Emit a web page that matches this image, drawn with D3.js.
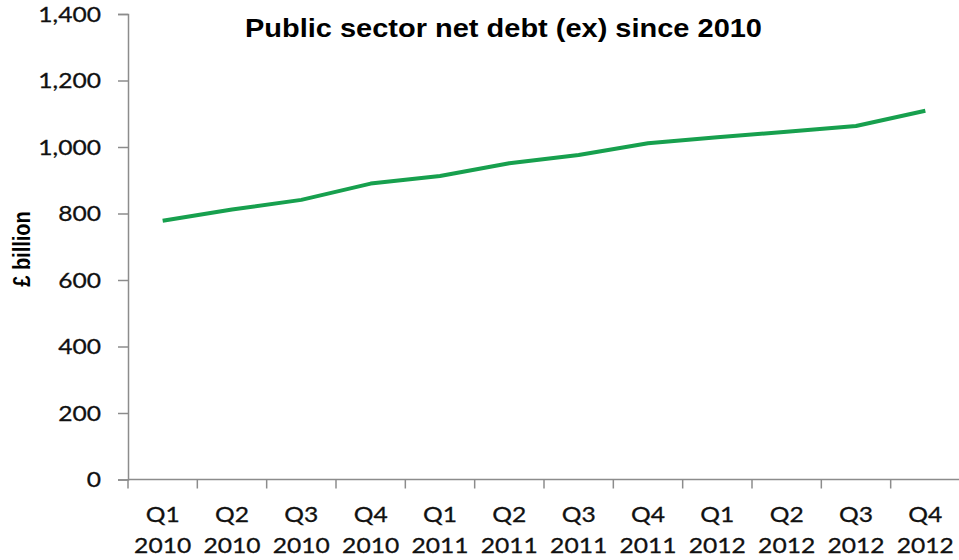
<!DOCTYPE html>
<html>
<head>
    <meta charset="UTF-8">
    <style>
        body { margin: 0; background: #fff; }
        .tick text { font-family: Lato, "Open Sans", sans-serif; font-size: 22px; fill: #111; stroke: #111; stroke-width: 0.3px; }
    </style>
</head>
<body>
    <svg width="959" height="560"></svg>
    <script src="https://d3js.org/d3.v7.min.js"></script>
    <script>
        // quarters and net debt (£ billion)
        let quarters = ["Q1", "Q2", "Q3", "Q4", "Q1", "Q2", "Q3", "Q4", "Q1", "Q2", "Q3", "Q4"];
        let years = ["2010", "2010", "2010", "2010", "2011", "2011", "2011", "2011", "2012", "2012", "2012", "2012"];
        let debt = [778, 812, 841, 890, 913, 951, 976, 1011, 1029, 1046, 1063, 1109];
        let yTicks = [0, 200, 400, 600, 800, 1000, 1200, 1400];

        let svg = d3.select("svg");
        let margin = { top: 14, left: 128, right: 0, bottom: 80 };
        let stretch = 1.12; // the reference text is a little wider than it is tall

        let keys = d3.range(debt.length);

        let x = d3.scaleBand()
            .domain(keys)
            .range([margin.left, 960]);

        let y = d3.scaleLinear()
            .domain([0, 1400])
            .range([479.5, margin.top]);

        // y axis
        let yAxis = svg.append("g")
            .attr("transform", "translate(" + margin.left + ",0)")
            .call(d3.axisLeft(y).tickValues(yTicks).tickSize(10).tickFormat(d3.format(",")));
        yAxis.selectAll("line, path").attr("stroke", "#8c8c8c").attr("stroke-width", 1.5);
        yAxis.selectAll("text")
            .attr("x", -27 / stretch)
            .attr("transform", "scale(" + stretch + ",1)");
        yAxis.attr("font-family", null).attr("font-size", null);

        // x axis, ticks between the categories
        let xAxis = svg.append("g")
            .attr("transform", "translate(0," + y(0) + ")");
        xAxis.append("line")
            .attr("x1", margin.left).attr("x2", 960)
            .attr("stroke", "#8c8c8c").attr("stroke-width", 1.5);
        xAxis.selectAll(".xt")
            .data(keys)
            .enter()
            .append("line")
            .attr("x1", d => x(d)).attr("x2", d => x(d))
            .attr("y1", 0).attr("y2", 9)
            .attr("stroke", "#8c8c8c").attr("stroke-width", 1.5);

        let labels = xAxis.selectAll(".tick")
            .data(keys)
            .enter()
            .append("g")
            .attr("class", "tick")
            .attr("transform", d => "translate(" + (x(d) + x.bandwidth() / 2) + ",0) scale(" + stretch + ",1)");
        labels.append("text")
            .attr("text-anchor", "middle")
            .attr("y", 42.5)
            .text(d => quarters[d]);
        labels.append("text")
            .attr("text-anchor", "middle")
            .attr("y", 73.5)
            .text(d => years[d]);

        // the line
        let line = d3.line()
            .x(d => x(d) + x.bandwidth() / 2)
            .y(d => y(debt[d]));

        svg.append("path")
            .datum(keys)
            .attr("fill", "none")
            .attr("stroke", "#17a04e")
            .attr("stroke-width", 4)
            .attr("stroke-linejoin", "round")
            .attr("d", line);

        // title
        svg.append("text")
            .attr("x", 245)
            .attr("y", 37)
            .attr("textLength", 517)
            .attr("lengthAdjust", "spacingAndGlyphs")
            .style("font-family", "'Liberation Sans', Arial, sans-serif")
            .style("font-weight", "bold")
            .style("font-size", "26px")
            .text("Public sector net debt (ex) since 2010");

        // y label
        svg.append("text")
            .attr("transform", "translate(30,249) scale(1.15,1) rotate(-90)")
            .attr("text-anchor", "middle")
            .style("font-family", "'Liberation Sans', Arial, sans-serif")
            .style("font-weight", "bold")
            .style("font-size", "20px")
            .text("£ billion");
    </script>
</body>
</html>
